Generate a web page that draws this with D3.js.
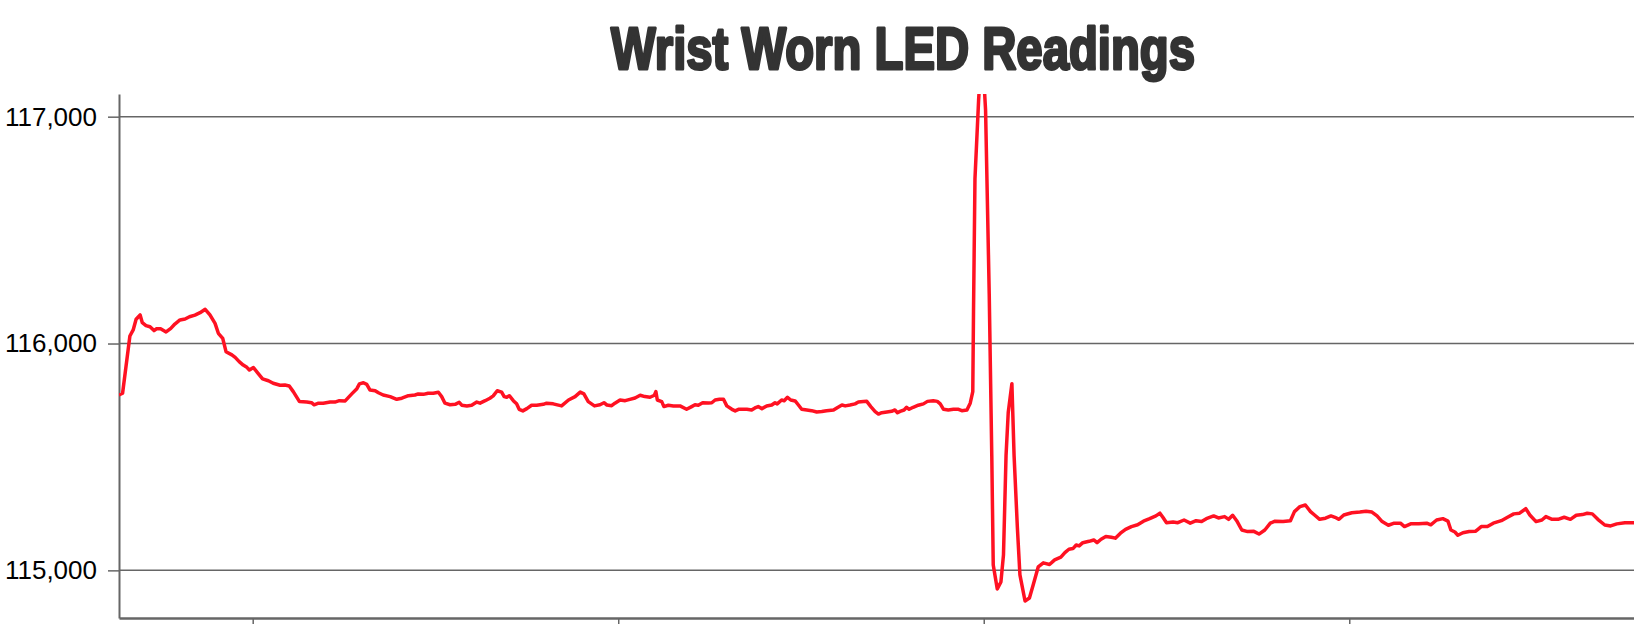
<!DOCTYPE html>
<html><head><meta charset="utf-8">
<script src="https://cdn.jsdelivr.net/npm/d3@7"></script>
<style>html,body{margin:0;padding:0;overflow:hidden;background:#fff}</style>
</head><body><svg id="chart"></svg>
<script>
// time in seconds
const times = [
6.34,6.44,6.64,6.73,6.81,6.92,6.98,7.08,7.19,7.30,7.37,7.48,7.63,7.76,7.87,8.01,8.15,8.27,8.42,8.56,
8.70,8.83,8.97,9.06,9.18,9.27,9.43,9.52,9.63,9.74,9.84,9.91,10.02,10.13,10.27,10.43,10.56,10.75,10.88,11.00,
11.11,11.28,11.48,11.61,11.68,11.80,11.93,12.12,12.25,12.37,12.53,12.71,12.85,12.92,13.03,13.12,13.21,13.35,13.44,13.57,
13.76,13.94,14.08,14.26,14.44,14.53,14.67,14.80,14.94,15.08,15.17,15.26,15.40,15.54,15.65,15.72,15.86,15.99,16.13,16.22,
16.36,16.49,16.58,16.69,16.81,16.88,16.95,17.02,17.13,17.22,17.29,17.39,17.50,17.63,17.77,17.95,18.04,18.22,18.45,18.64,
18.82,18.96,19.06,19.18,19.35,19.50,19.61,19.69,19.82,19.91,20.05,20.19,20.32,20.46,20.60,20.73,20.87,20.99,21.03,21.07,
21.19,21.25,21.37,21.51,21.69,21.87,22.01,22.10,22.19,22.31,22.47,22.56,22.65,22.77,22.88,22.97,23.11,23.20,23.29,23.52,
23.65,23.74,23.83,23.93,24.06,24.20,24.29,24.35,24.47,24.54,24.63,24.72,24.84,24.93,25.02,25.16,25.29,25.43,25.57,25.70,
25.89,25.98,26.12,26.21,26.34,26.48,26.57,26.71,26.80,26.91,27.03,27.12,27.21,27.35,27.48,27.57,27.64,27.71,27.82,27.89,
27.96,28.07,28.21,28.35,28.46,28.62,28.73,28.81,28.90,29.03,29.17,29.31,29.40,29.54,29.63,29.70,29.72,29.76,29.86,29.95,
30.05,30.15,30.22,30.26,30.37,30.47,30.54,30.61,30.67,30.77,30.83,30.92,30.99,31.13,31.25,31.36,31.49,31.63,31.80,31.94,
32.11,32.22,32.33,32.44,32.53,32.61,32.71,32.88,33.01,33.10,33.21,33.34,33.49,33.60,33.74,33.88,34.04,34.21,34.37,34.54,
34.71,34.82,34.90,35.00,35.18,35.31,35.48,35.65,35.81,35.96,36.09,36.29,36.42,36.59,36.70,36.81,36.92,37.06,37.22,37.39,
37.53,37.69,37.84,37.97,38.19,38.39,38.50,38.65,38.80,38.94,39.05,39.19,39.35,39.50,39.61,39.72,39.85,40.07,40.29,40.46,
40.62,40.76,40.90,41.07,41.23,41.40,41.51,41.68,41.90,42.12,42.23,42.39,42.56,42.70,42.78,42.89,42.97,43.11,43.28,43.45,
43.52,43.61,43.78,43.94,44.16,44.33,44.50,44.66,44.83,44.94,45.11,45.27,45.38,45.55,45.71,45.88,46.05,46.21,46.38,46.51,
46.65,46.80,46.99,47.15,47.32,47.54,47.79,47.95
];
// LED reading
const values = [
115773,115781,116033,116060,116107,116126,116092,116079,116074,116057,116065,116065,116051,116067,116086,116104,116108,116118,116125,116136,
116151,116126,116089,116045,116023,115964,115950,115939,115920,115905,115895,115883,115894,115872,115844,115836,115825,115816,115817,115813,
115788,115744,115742,115739,115730,115737,115737,115742,115742,115748,115747,115778,115801,115822,115827,115820,115795,115792,115783,115773,
115766,115754,115759,115770,115773,115778,115776,115781,115781,115785,115766,115737,115730,115732,115741,115728,115725,115728,115742,115737,
115748,115759,115769,115792,115786,115766,115763,115770,115748,115734,115710,115703,115713,115728,115728,115732,115737,115734,115725,115751,
115766,115786,115778,115744,115725,115730,115739,115729,115726,115737,115751,115748,115754,115760,115772,115766,115763,115772,115788,115751,
115744,115722,115728,115725,115725,115710,115722,115730,115728,115739,115738,115739,115751,115754,115754,115725,115710,115703,115710,115710,
115707,115716,115722,115713,115725,115729,115739,115734,115751,115748,115763,115751,115747,115729,115710,115707,115704,115698,115700,115704,
115707,115716,115729,115725,115729,115734,115742,115744,115745,115722,115700,115689,115695,115698,115701,115707,115695,115701,115707,115719,
115710,115719,115728,115734,115745,115748,115745,115734,115710,115707,115710,115710,115704,115707,115737,115788,116140,116727,117074,117316,
117029,116219,115506,115024,114918,114949,115068,115506,115696,115823,115506,115189,114980,114865,114878,114940,115015,115033,115026,115046,
115058,115078,115093,115096,115112,115108,115122,115128,115134,115122,115137,115149,115146,115142,115164,115181,115193,115201,115217,115228,
115240,115252,115234,115210,115213,115210,115222,115208,115219,115215,115228,115240,115231,115237,115225,115243,115219,115178,115171,115172,
115160,115178,115208,115217,115215,115219,115259,115281,115288,115259,115244,115225,115230,115240,115234,115225,115244,115254,115257,115261,
115257,115240,115215,115199,115208,115208,115193,115205,115205,115208,115201,115222,115228,115217,115178,115169,115155,115166,115171,115172,
115181,115193,115193,115208,115219,115234,115249,115252,115272,115244,115215,115222,115237,115225,115225,115234,115225,115243,115246,115252,
115249,115225,115200,115196,115205,115210,115210,115212
];
const yTickValues = [115000, 116000, 117000];
const xTickValues = [10, 20, 30, 40];
const titleText = "Wrist Worn LED Readings";

(function () {
  const W = 1634, H = 624;
  const pl = 119, pt = 94, pb = 618, pr = 1634;
  const svg = d3.select("#chart").attr("width", W).attr("height", H)
    .style("display", "block");

  const x = d3.scaleLinear().domain([6.342, 47.79]).range([pl, pr]);
  const y = d3.scaleLinear().domain([114790, 117100]).range([pb, pt]);

  // gridlines
  svg.append("g").selectAll("line").data(yTickValues).join("line")
    .attr("x1", pl).attr("x2", pr)
    .attr("y1", d => y(d)).attr("y2", d => y(d))
    .attr("stroke", "#666").attr("stroke-width", 1.5);

  // y axis
  const ya = svg.append("g").attr("transform", `translate(${pl},0)`)
    .call(d3.axisLeft(y).tickValues(yTickValues).tickSize(11).tickSizeOuter(0)
      .tickPadding(11).tickFormat(d3.format(",")));
  ya.select(".domain").attr("stroke", "#666").attr("stroke-width", 2);
  ya.selectAll(".tick line").attr("stroke", "#666").attr("stroke-width", 1.5);
  ya.selectAll(".tick text").attr("fill", "#000")
    .style("font-family", "'Liberation Sans', Arial, sans-serif").style("font-size", "26px");

  // x axis
  const xa = svg.append("g").attr("transform", `translate(0,${pb})`)
    .call(d3.axisBottom(x).tickValues(xTickValues).tickSize(10).tickSizeOuter(0).tickFormat(""));
  xa.select(".domain").attr("stroke", "#666").attr("stroke-width", 2.5);
  xa.selectAll(".tick line").attr("stroke", "#666").attr("stroke-width", 1.5);

  // clip
  svg.append("clipPath").attr("id", "clip").append("rect")
    .attr("x", pl).attr("y", pt).attr("width", pr - pl).attr("height", pb - pt);

  const data = times.map((t, i) => ({t, v: values[i]}));
  svg.append("path").datum(data)
    .attr("clip-path", "url(#clip)")
    .attr("fill", "none").attr("stroke", "#ff1122").attr("stroke-width", 3.5)
    .attr("stroke-linejoin", "round")
    .attr("d", d3.line().x(d => x(d.t)).y(d => y(d.v)));

  // title
  svg.append("text").attr("x", 903).attr("y", 69)
    .attr("text-anchor", "middle")
    .attr("textLength", 584).attr("lengthAdjust", "spacingAndGlyphs")
    .style("font-family", "'Liberation Sans Narrow', 'Liberation Sans', Arial, sans-serif")
    .style("font-weight", "bold").style("font-size", "60px")
    .attr("fill", "#333").attr("stroke", "#333").attr("stroke-width", 3)
    .attr("stroke-linejoin", "round")
    .text(titleText);
})();
</script>
</body></html>
